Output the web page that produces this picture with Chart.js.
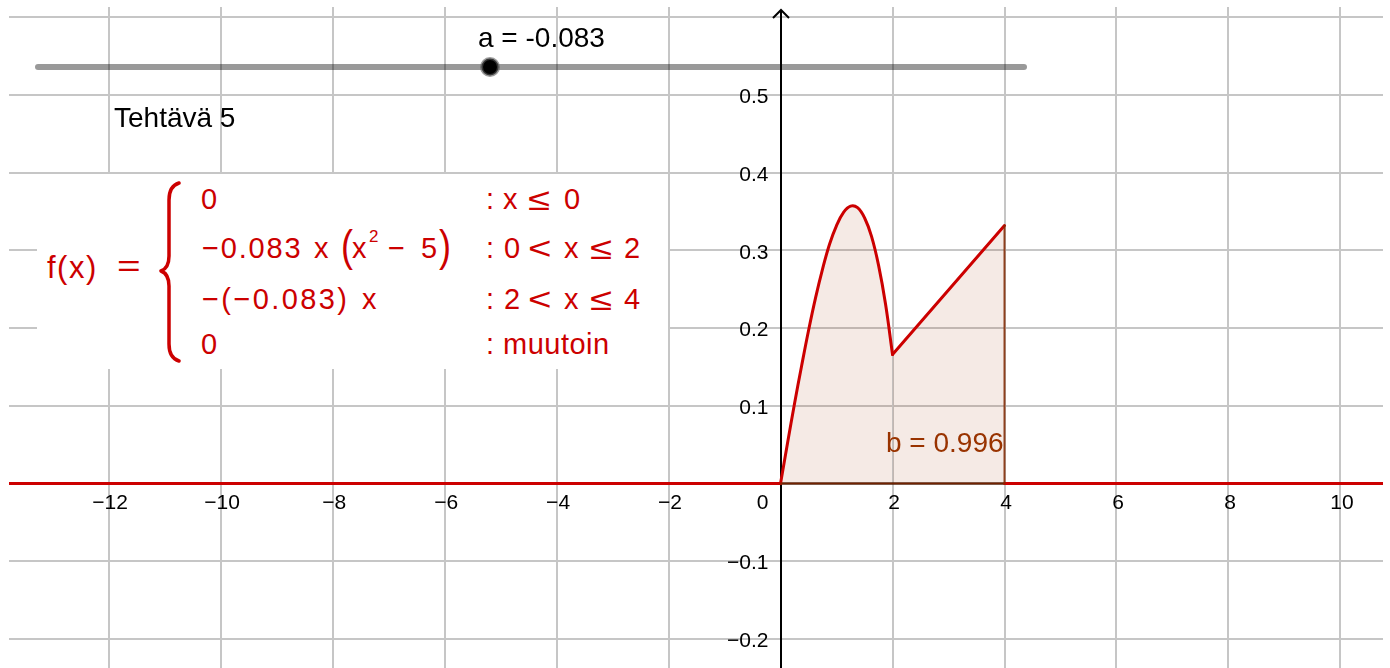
<!DOCTYPE html>
<html>
<head>
<meta charset="utf-8">
<title>Tehtävä 5</title>
<script src="https://cdn.jsdelivr.net/npm/chart.js@4.4.1/dist/chart.umd.min.js"></script>
<style>
  body { margin: 0; background: #fff; }
  #wrap { position: relative; width: 1390px; height: 668px; overflow: hidden; background: #fff; }
  #graph { position: absolute; left: 0; top: 0; }
  .lbl { position: absolute; font-family: 'Liberation Sans', Arial, sans-serif; font-size: 28px; line-height: 28px; white-space: nowrap; }
  #kaava { position: absolute; left: 37px; top: 174px; width: 631px; height: 195px; background: #fff; }
  #kaava .r { position: absolute; left: 0; width: 631px; height: 29px; }
  #kaava .p { position: absolute; top: 0; font-family: 'Liberation Sans', Arial, sans-serif; font-size: 29px; line-height: 29px;
              color: #cc0000; white-space: nowrap; }
  #kaava .iso { font-size: 31px; top: 0px; transform: scaleX(1.3); transform-origin: left center; }
  #kaava .sulku { font-size: 36px; top: -2px; transform: scaleY(1.25); transform-origin: center 60%; }
  #overlay { position: absolute; left: 0; top: 0; pointer-events: none; }
</style>
</head>
<body>
<div id="wrap">
  <canvas id="graph" width="1390" height="668"></canvas>

  <div class="lbl" style="left:478px; top:24px; color:#000;">a = -0.083</div>
  <div class="lbl" style="left:114px; top:104px; color:#000;">Tehtävä 5</div>
  <div class="lbl" style="left:886px; top:429px; color:#993300;">b = 0.996</div>

  <!-- paloittain määritelty funktio -->
  <div id="kaava">
    <div class="r" style="top:80px;">
      <span class="p" style="left:10px; font-size:31px; letter-spacing:1.5px; top:-1px;">f(x)</span>
      <span class="p" style="left:80px; font-size:30px; top:-3px; transform:scaleX(1.35); transform-origin:left center;">=</span>
    </div>

    <div class="r" style="top:11px;">
      <span class="p" style="left:164px;">0</span>
      <span class="p" style="left:449px;">:</span>
      <span class="p" style="left:466px;">x</span>
      <span class="p iso" style="left:491px;">≤</span>
      <span class="p" style="left:527px;">0</span>
    </div>

    <div class="r" style="top:60px;">
      <span class="p" style="left:165px; letter-spacing:1.8px;">−0.083</span>
      <span class="p" style="left:277px;">x</span>
      <span class="p sulku" style="left:304px;">(</span>
      <span class="p" style="left:315px;">x</span>
      <span class="p" style="left:332px; font-size:17px; top:-12px;">2</span>
      <span class="p" style="left:351px;">−</span>
      <span class="p" style="left:384px;">5</span>
      <span class="p sulku" style="left:402px;">)</span>
      <span class="p" style="left:449px;">:</span>
      <span class="p" style="left:467px;">0</span>
      <span class="p iso" style="left:491px;">&lt;</span>
      <span class="p" style="left:527px;">x</span>
      <span class="p iso" style="left:553px;">≤</span>
      <span class="p" style="left:587px;">2</span>
    </div>

    <div class="r" style="top:111px;">
      <span class="p" style="left:165px; letter-spacing:2.4px;">−(−0.083)</span>
      <span class="p" style="left:325px;">x</span>
      <span class="p" style="left:449px;">:</span>
      <span class="p" style="left:467px;">2</span>
      <span class="p iso" style="left:491px;">&lt;</span>
      <span class="p" style="left:527px;">x</span>
      <span class="p iso" style="left:553px;">≤</span>
      <span class="p" style="left:587px;">4</span>
    </div>

    <div class="r" style="top:156px;">
      <span class="p" style="left:164px;">0</span>
      <span class="p" style="left:449px;">:</span>
      <span class="p" style="left:466px; letter-spacing:0.5px;">muutoin</span>
    </div>
  </div>

  <svg id="overlay" width="1390" height="668">
    <!-- liukusäädin -->
    <line x1="38" y1="67" x2="1024" y2="67" stroke="rgba(0,0,0,0.4)" stroke-width="6" stroke-linecap="round"/>
    <circle cx="490" cy="67" r="8.5" fill="#000" stroke="rgba(90,90,90,0.6)" stroke-width="3"/>
    <!-- aaltosulje -->
    <path d="M179 183 Q169 186 169 200 L169 256 Q169 268 161 271 Q169 274 169 286 L169 344 Q169 358 179 361"
          fill="none" stroke="#cc0000" stroke-width="3.5" stroke-linecap="round" stroke-linejoin="round"/>
  </svg>
</div>

<script>
  // näkyvä alue
  const xMin = -13.78;
  const xMax = 10.76;
  const yMin = -0.2375;
  const yMax = 0.6133;

  // ruudukko ja asteikon luvut
  const xGrid = [-12, -10, -8, -6, -4, -2, 2, 4, 6, 8, 10];
  const yGrid = [-0.2, -0.1, 0.1, 0.2, 0.3, 0.4, 0.5, 0.6];
  const xTicks = [-12, -10, -8, -6, -4, -2, 2, 4, 6, 8, 10];
  const yTicks = [-0.2, -0.1, 0.1, 0.2, 0.3, 0.4, 0.5];

  // f(x), kun 0 < x <= 2
  const kaariX = [0, 0.125, 0.25, 0.375, 0.5, 0.625, 0.75, 0.875, 1, 1.125, 1.25, 1.375, 1.5, 1.625, 1.75, 1.875, 2];
  const kaariY = [0, 0.052, 0.103, 0.151, 0.197, 0.239, 0.276, 0.308, 0.332, 0.349, 0.357, 0.355, 0.342, 0.318, 0.281, 0.231, 0.166];

  // f(x), kun 2 < x <= 4
  const suoraX = [2, 4];
  const suoraY = [0.166, 0.332];

  // f(x) = 0 muualla
  const nollaVasenX = [xMin, 0];
  const nollaOikeaX = [4, xMax];

  // integroitavan alueen reuna (x = 0 ... 4)
  const alueX = [0, 4, 4];
  const alueY = [0, 0, 0.332];

  const punainen = '#cc0000';

  const pisteet = (xs, ys) => xs.map((x, i) => ({ x: x, y: ys ? ys[i] : 0 }));
  const miinus = (s) => s.replace('-', '\u2212');

  const ruudukko = {
    id: 'ruudukko',
    beforeDatasetsDraw(chart) {
      const { ctx, chartArea } = chart;
      const xs = chart.scales.x;
      const ys = chart.scales.y;
      ctx.save();
      ctx.beginPath();
      ctx.rect(chartArea.left, chartArea.top, chartArea.right - chartArea.left, chartArea.bottom - chartArea.top);
      ctx.clip();

      ctx.strokeStyle = '#c6c6c6';
      ctx.lineWidth = 2;
      xGrid.forEach((v) => {
        const px = Math.round(xs.getPixelForValue(v));
        ctx.beginPath();
        ctx.moveTo(px, chartArea.top);
        ctx.lineTo(px, chartArea.bottom);
        ctx.stroke();
      });
      yGrid.forEach((v) => {
        const py = Math.round(ys.getPixelForValue(v));
        ctx.beginPath();
        ctx.moveTo(chartArea.left, py);
        ctx.lineTo(chartArea.right, py);
        ctx.stroke();
      });

      // y-akseli nuolella
      const x0 = Math.round(xs.getPixelForValue(0));
      const y0 = ys.getPixelForValue(0);
      ctx.strokeStyle = '#000';
      ctx.lineWidth = 2;
      ctx.beginPath();
      ctx.moveTo(x0, chartArea.bottom);
      ctx.lineTo(x0, 10);
      ctx.stroke();
      ctx.beginPath();
      ctx.moveTo(x0 - 8, 18);
      ctx.lineTo(x0, 10);
      ctx.lineTo(x0 + 8, 18);
      ctx.stroke();

      // x-akseli
      ctx.beginPath();
      ctx.moveTo(chartArea.left, y0);
      ctx.lineTo(chartArea.right, y0);
      ctx.stroke();
      ctx.restore();
    },
    afterDatasetsDraw(chart) {
      const { ctx } = chart;
      const xs = chart.scales.x;
      const ys = chart.scales.y;
      const x0 = xs.getPixelForValue(0);
      const y0 = ys.getPixelForValue(0);
      ctx.save();
      ctx.fillStyle = '#000';
      ctx.font = "21px 'Liberation Sans', Arial, sans-serif";
      ctx.textBaseline = 'alphabetic';

      ctx.textAlign = 'center';
      xTicks.forEach((v) => {
        ctx.fillText(miinus(String(v)), xs.getPixelForValue(v) + 1.5, y0 + 25.5);
      });
      ctx.textAlign = 'right';
      ctx.fillText('0', x0 - 12, y0 + 25.5);

      ctx.textBaseline = 'middle';
      yTicks.forEach((v) => {
        ctx.fillText(miinus(v.toFixed(1)), x0 - 12, ys.getPixelForValue(v) + 2.5);
      });
      ctx.restore();
    }
  };

  const ctx = document.getElementById('graph');

  new Chart(ctx, {
    type: 'line',
    data: {
      datasets: [
        {
          // alueen reuna
          data: pisteet(alueX, alueY),
          borderColor: 'rgba(130,40,0,0.85)',
          borderWidth: 2,
          fill: false,
          tension: 0
        },
        {
          data: pisteet(kaariX, kaariY),
          borderColor: punainen,
          borderWidth: 3,
          backgroundColor: 'rgba(153,51,0,0.1)',
          fill: 'origin',
          tension: 0.4
        },
        {
          data: pisteet(suoraX, suoraY),
          borderColor: punainen,
          borderWidth: 3,
          backgroundColor: 'rgba(153,51,0,0.1)',
          fill: 'origin',
          tension: 0
        },
        {
          data: pisteet(nollaVasenX),
          borderColor: punainen,
          borderWidth: 3,
          fill: false
        },
        {
          data: pisteet(nollaOikeaX),
          borderColor: punainen,
          borderWidth: 3,
          fill: false
        }
      ]
    },
    options: {
      responsive: false,
      animation: false,
      events: [],
      layout: { padding: { left: 9, top: 7, right: 7, bottom: 0 } },
      elements: {
        point: { radius: 0 },
        line: { borderCapStyle: 'round', borderJoinStyle: 'round' }
      },
      scales: {
        x: { type: 'linear', min: xMin, max: xMax, display: false },
        y: { type: 'linear', min: yMin, max: yMax, display: false }
      },
      plugins: {
        legend: { display: false },
        tooltip: { enabled: false }
      }
    },
    plugins: [ruudukko]
  });
</script>
</body>
</html>
